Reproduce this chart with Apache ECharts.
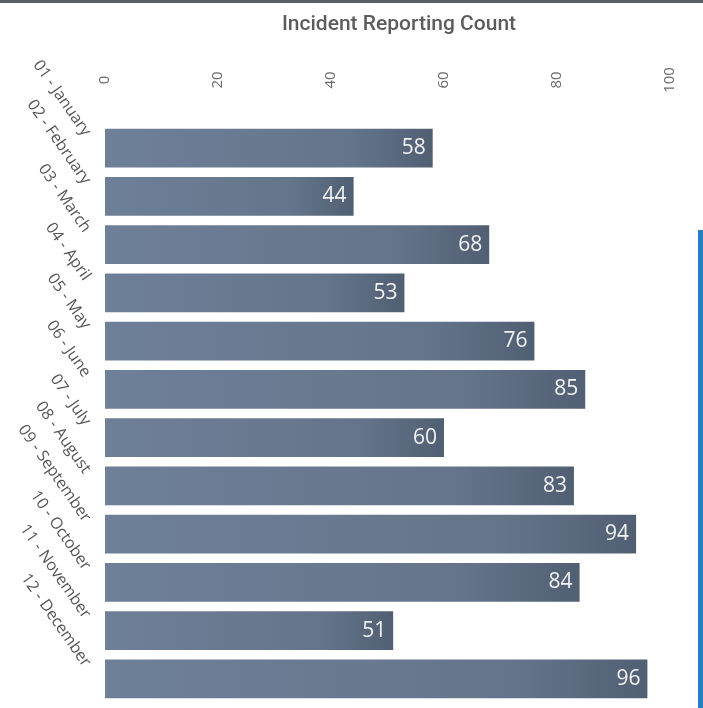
<!DOCTYPE html>
<html>
<head>
<meta charset="utf-8">
<script src="https://cdn.jsdelivr.net/npm/echarts@6/dist/echarts.min.js"></script>
<style>
  html, body { margin: 0; padding: 0; background: #ffffff; }
  #chart { width: 703px; height: 708px; }
</style>
</head>
<body>
<div id="chart"></div>
<script>
// Monthly incident reports
const months = [
  '01 - January', '02 - February', '03 - March', '04 - April',
  '05 - May', '06 - June', '07 - July', '08 - August',
  '09 - September', '10 - October', '11 - November', '12 - December'
];
const incidentCounts = [58, 44, 68, 53, 76, 85, 60, 83, 94, 84, 51, 96];
const valueTicks = [0, 20, 40, 60, 80, 100];

const chart = echarts.init(document.getElementById('chart'), null, { renderer: 'canvas' });

const barFill = new echarts.graphic.LinearGradient(0, 0, 1, 0, [
  { offset: 0, color: '#6e8098' },
  { offset: 0.75, color: '#64758b' },
  { offset: 1, color: '#515f73' }
]);

chart.setOption({
  backgroundColor: '#ffffff',
  animation: false,
  title: {
    text: 'Incident Reporting Count',
    left: 394,
    textAlign: 'center',
    top: 9,
    textStyle: {
      fontFamily: 'Roboto',
      fontWeight: 500,
      fontSize: 21,
      color: '#5c5c5c'
    }
  },
  grid: [
    // bars
    { left: 105, right: 33, top: 124, bottom: 5, containLabel: false },
    // month labels, set slightly higher than the bars
    { left: 105, right: 33, top: 110, bottom: 19, containLabel: false }
  ],
  xAxis: [
    {
      gridIndex: 0,
      type: 'value',
      position: 'top',
      min: valueTicks[0],
      max: valueTicks[valueTicks.length - 1],
      interval: valueTicks[1] - valueTicks[0],
      axisLine: { show: false },
      axisTick: { show: false },
      splitLine: { show: false },
      axisLabel: {
        rotate: -90,
        margin: 44,
        fontFamily: 'Open Sans',
        fontSize: 15,
        color: '#6a6a6a',
        align: 'center',
        verticalAlign: 'middle'
      }
    },
    {
      gridIndex: 1,
      type: 'value',
      show: false,
      min: 0,
      max: 100
    }
  ],
  yAxis: [
    {
      gridIndex: 0,
      type: 'category',
      data: months,
      inverse: true,
      axisLine: { show: false },
      axisTick: { show: false },
      axisLabel: { show: false }
    },
    {
      gridIndex: 1,
      type: 'category',
      data: months,
      inverse: true,
      axisLine: { show: false },
      axisTick: { show: false },
      axisLabel: {
        rotate: -55,
        margin: 18,
        fontFamily: 'Open Sans',
        fontSize: 16,
        color: '#555555'
      }
    }
  ],
  series: [
    {
      type: 'bar',
      xAxisIndex: 0,
      yAxisIndex: 0,
      data: incidentCounts,
      barCategoryGap: '20%',
      itemStyle: { color: barFill },
      label: {
        show: true,
        position: 'insideRight',
        distance: 7,
        fontFamily: 'Open Sans',
        fontSize: 21,
        color: '#f2f2f2'
      }
    }
  ],
  graphic: [
    // frame edges of the report panel
    {
      type: 'rect',
      shape: { x: 0, y: 0, width: 703, height: 3 },
      style: { fill: '#5a5f66' },
      silent: true
    },
    {
      type: 'rect',
      shape: { x: 698, y: 230, width: 5, height: 478 },
      style: { fill: '#2a7cc4' },
      silent: true
    }
  ]
});
</script>
</body>
</html>
